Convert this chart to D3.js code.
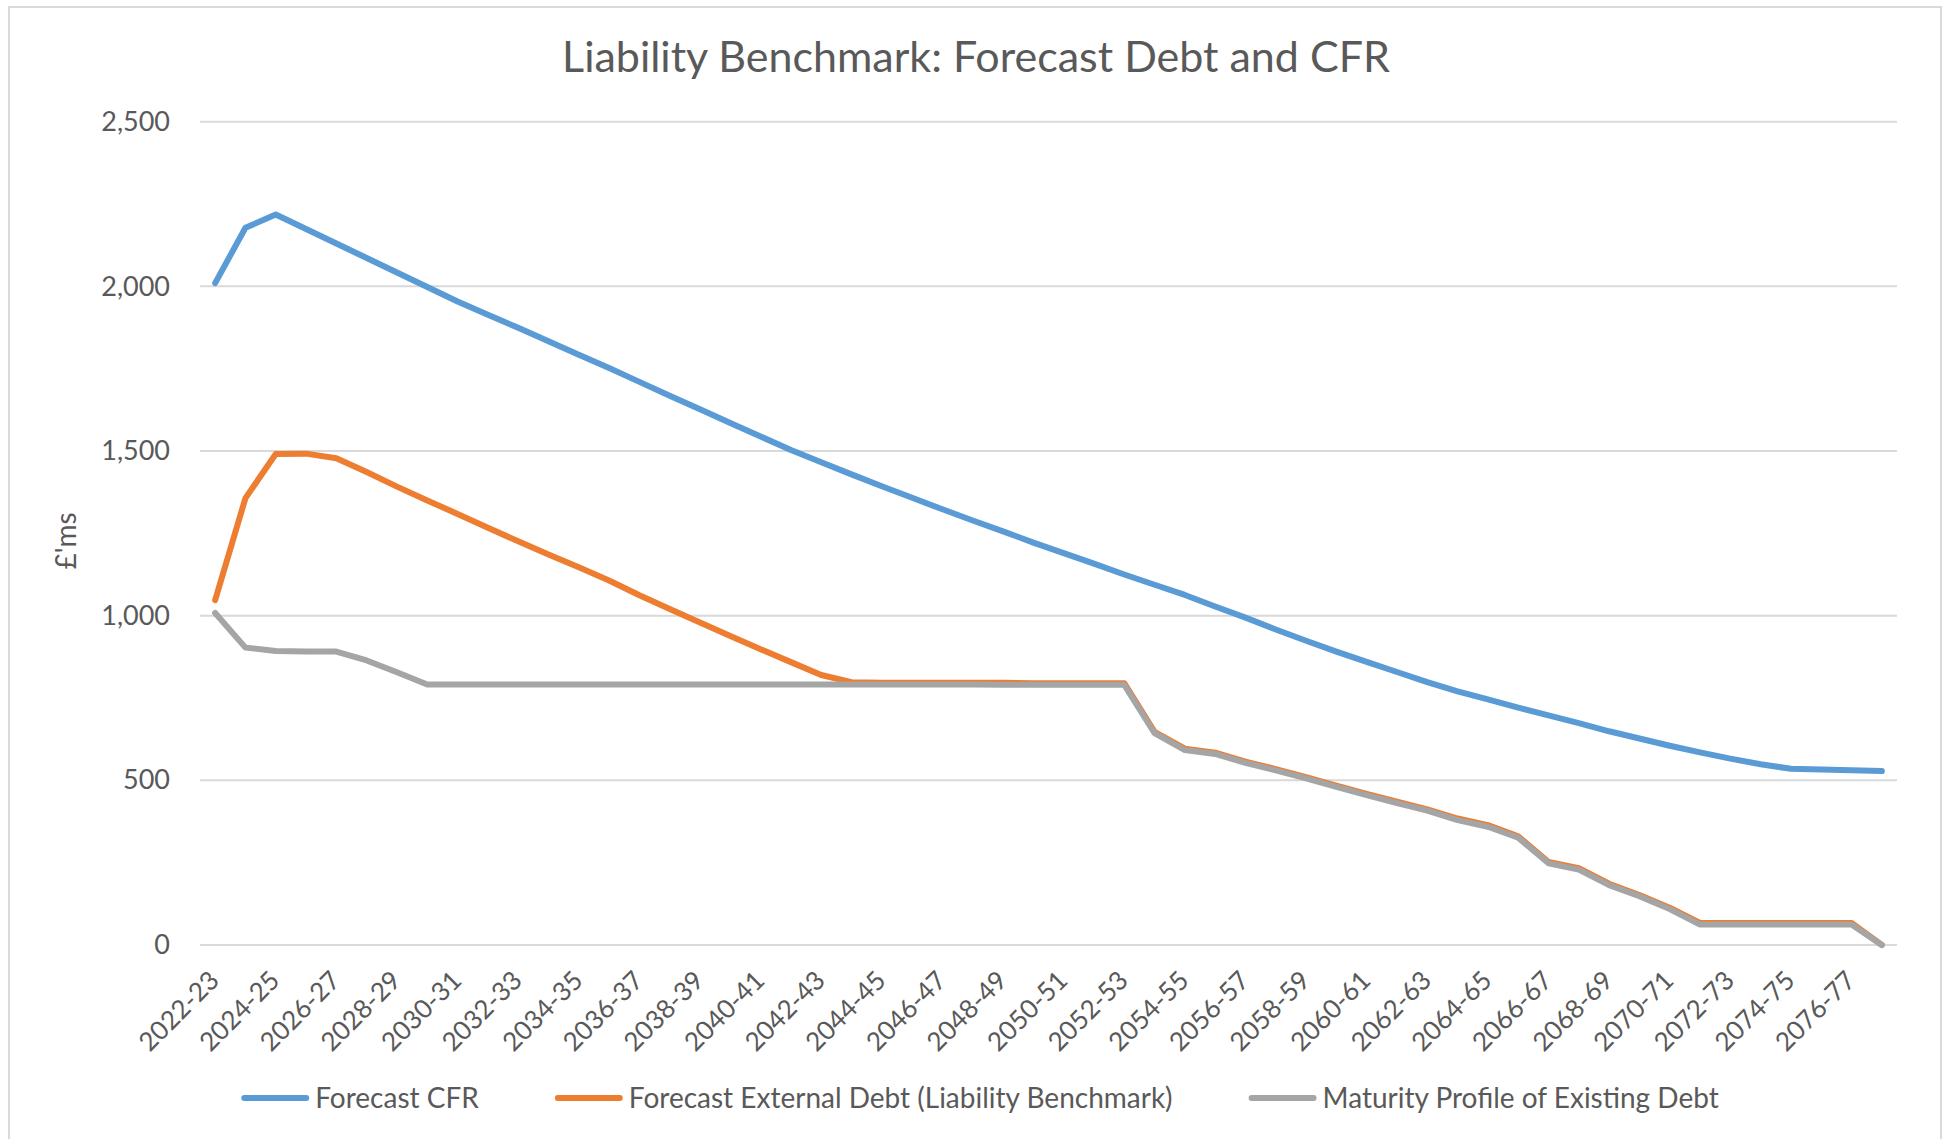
<!DOCTYPE html>
<html>
<head>
<meta charset="utf-8">
<script src="https://cdn.jsdelivr.net/npm/d3@7"></script>
<style>
    body { margin: 0; background: #ffffff; }
    text { font-family: Lato, 'Open Sans', sans-serif; fill: #595959; }
</style>
</head>
<body>
<svg></svg>
<script>

let categories = [
    '2022-23', '2023-24', '2024-25', '2025-26', '2026-27', '2027-28', '2028-29', '2029-30',
    '2030-31', '2031-32', '2032-33', '2033-34', '2034-35', '2035-36', '2036-37', '2037-38',
    '2038-39', '2039-40', '2040-41', '2041-42', '2042-43', '2043-44', '2044-45', '2045-46',
    '2046-47', '2047-48', '2048-49', '2049-50', '2050-51', '2051-52', '2052-53', '2053-54',
    '2054-55', '2055-56', '2056-57', '2057-58', '2058-59', '2059-60', '2060-61', '2061-62',
    '2062-63', '2063-64', '2064-65', '2065-66', '2066-67', '2067-68', '2068-69', '2069-70',
    '2070-71', '2071-72', '2072-73', '2073-74', '2074-75', '2075-76', '2076-77', '2077-78'
]

let forecastCfr = [
    2010, 2178, 2218, 2174, 2130, 2086, 2042, 1998, 1954, 1914, 1874, 1833, 1792, 1752,
    1710, 1668, 1627, 1585, 1544, 1503, 1466, 1429, 1393, 1358, 1323, 1289, 1256, 1222,
    1190, 1158, 1125, 1094, 1063, 1028, 994, 958, 924, 891, 860, 829, 798, 770,
    746, 721, 697, 674, 649, 627, 605, 585, 566, 549, 535, 533, 531, 528
]

let forecastExternalDebt = [
    1047, 1357, 1491, 1492, 1478, 1436, 1392, 1350, 1309, 1267, 1226, 1186, 1147, 1107,
    1062, 1020, 979, 938, 898, 859, 820, 798, 796, 796, 796, 796, 796, 795,
    795, 795, 795, 647, 596, 584, 557, 534, 510, 484, 459, 435, 412, 384,
    364, 330, 252, 233, 186, 152, 113, 67, 67, 67, 67, 67, 67, 0
]

let maturityProfile = [
    1008, 903, 893, 891, 891, 864, 828, 791, 791, 791, 791, 791, 791, 791,
    791, 791, 791, 791, 791, 791, 791, 791, 791, 791, 791, 791, 790, 790,
    790, 790, 790, 643, 592, 580, 553, 530, 506, 480, 455, 431, 408, 379,
    359, 326, 248, 229, 182, 148, 109, 62, 62, 62, 62, 62, 62, 0
]

let seriesNames = ['Forecast CFR', 'Forecast External Debt (Liability Benchmark)', 'Maturity Profile of Existing Debt']
let seriesColors = ['#5b9bd5', '#ed7d31', '#a5a5a5']
let yTicks = [0, 500, 1000, 1500, 2000, 2500]

let width = 1946
let height = 1139
let plotLeft = 200
let plotRight = 1897
let plotTop = 121.7
let plotBottom = 945

let svg = d3.select('svg')
svg.attr('width', width)
   .attr('height', height)

// chart frame, runs off the bottom like the original
svg.append('rect')
   .attr('x', 9)
   .attr('y', 7)
   .attr('width', 1932)
   .attr('height', 1150)
   .attr('fill', 'none')
   .attr('stroke', '#d9d9d9')
   .attr('stroke-width', 2)

let xScale = d3.scalePoint()
               .domain(categories)
               .range([plotLeft, plotRight])
               .padding(0.5)

let yScale = d3.scaleLinear()
               .domain([0, 2500])
               .range([plotBottom, plotTop])

// gridlines
svg.append('g')
   .selectAll('line')
   .data(yTicks)
   .enter()
   .append('line')
   .attr('x1', plotLeft)
   .attr('x2', plotRight)
   .attr('y1', d => yScale(d))
   .attr('y2', d => yScale(d))
   .attr('stroke', '#d9d9d9')
   .attr('stroke-width', 2)

let yAxis = d3.axisLeft(yScale)
              .tickValues(yTicks)
              .tickSize(0)
              .tickPadding(30)
              .tickFormat(d3.format(','))

let yAxisG = svg.append('g')
   .attr('transform', 'translate(' + plotLeft + ', 0)')
   .call(yAxis)
yAxisG.select('.domain').remove()
yAxisG.selectAll('text')
      .attr('font-size', 27)
      .attr('font-family', null)
      .attr('fill', '#595959')

let xAxis = d3.axisBottom(xScale)
              .tickValues(categories.filter((d, i) => i % 2 === 0))
              .tickSize(0)

let xAxisG = svg.append('g')
   .attr('transform', 'translate(0, ' + plotBottom + ')')
   .call(xAxis)
xAxisG.select('.domain').remove()
xAxisG.selectAll('text')
      .attr('font-size', 26)
      .attr('font-family', null)
      .attr('fill', '#595959')
      .attr('text-anchor', 'end')
      .attr('dy', null)
      .attr('y', 0)
      .attr('transform', 'translate(5, 37) rotate(-45)')

let allSeries = [forecastCfr, forecastExternalDebt, maturityProfile]

let line = d3.line()
             .x((d, i) => xScale(categories[i]))
             .y(d => yScale(d))

svg.append('g')
   .selectAll('path')
   .data(allSeries)
   .enter()
   .append('path')
   .attr('d', d => line(d))
   .attr('fill', 'none')
   .attr('stroke', (d, i) => seriesColors[i])
   .attr('stroke-width', 6)
   .attr('stroke-linejoin', 'round')
   .attr('stroke-linecap', 'round')

// title
svg.append('text')
   .attr('x', 976)
   .attr('y', 72)
   .attr('text-anchor', 'middle')
   .attr('font-size', 43)
   .text('Liability Benchmark: Forecast Debt and CFR')

// y axis title
svg.append('text')
   .attr('transform', 'translate(76, 541) rotate(-90)')
   .attr('text-anchor', 'middle')
   .attr('font-size', 28)
   .text("£'ms")

// legend
let legend = svg.append('g')
let legendX = 0
seriesNames.forEach((name, i) => {
    let item = legend.append('g')
                     .attr('transform', 'translate(' + legendX + ', 0)')
    item.append('line')
        .attr('x1', 3)
        .attr('x2', 65)
        .attr('y1', 0)
        .attr('y2', 0)
        .attr('stroke', seriesColors[i])
        .attr('stroke-width', 6)
        .attr('stroke-linecap', 'round')
    let label = item.append('text')
        .attr('x', 74)
        .attr('y', 10)
        .attr('font-size', 28)
        .text(name)
    legendX += 74 + label.node().getComputedTextLength() + 76
})
legendX -= 76
legend.attr('transform', 'translate(' + (980 - legendX / 2) + ', 1098)')

</script>
</body>
</html>
